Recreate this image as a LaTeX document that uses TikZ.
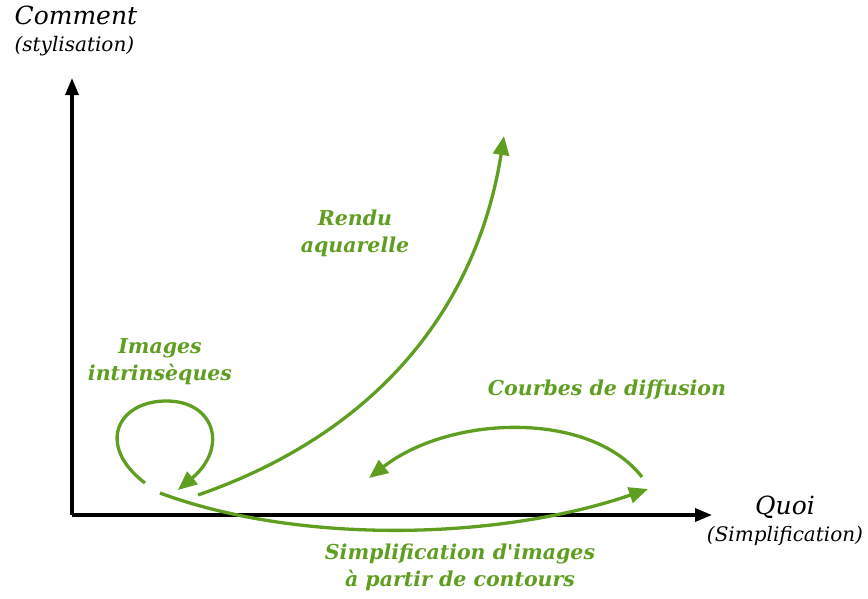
\documentclass[tikz,border=0pt]{standalone}
\usepackage{fontspec}
\setmainfont{DejaVu Serif}
\usetikzlibrary{arrows.meta}
\definecolor{vert}{RGB}{96,158,34}

\begin{document}
\begin{tikzpicture}[x=1pt, y=-1pt, line width=3.3pt,
    axe/.style={-{Triangle[length=17pt,width=13pt]}, black},
    fleche/.style={-{Triangle[length=19pt,width=16pt]}, vert},
    etiq/.style={text=vert, font=\fontsize{20.5}{27}\selectfont\bfseries\itshape, align=center},
    titre/.style={font=\fontsize{25}{28}\selectfont\itshape, inner sep=0pt}]
  \useasboundingbox (0,0) rectangle (868,598);

  % Axes
  \coordinate (O) at (72,515);
  \coordinate (haut) at (72,78);
  \coordinate (droite) at (712,515);
  \draw[axe] (O) -- (haut);
  \draw[axe] (O) -- (droite);

  % Titres des axes
  \node[titre, align=left, anchor=north west] (comment) at (13,4) {Comment\\[-1pt]{\fontsize{20}{22}\selectfont(stylisation)}};
  \node[titre, align=center] (quoi) at (785,521) {Quoi\\[-1pt]{\fontsize{20}{22}\selectfont(Simplification)}};

  % Etiquettes
  \node[etiq] (rendu) at (355,233) {Rendu\\aquarelle};
  \node[etiq] (intrin) at (160,362) {Images\\intrinsèques};
  \node[etiq] (courbes) at (607,390) {Courbes de diffusion};
  \node[etiq] (simpl) at (460,567) {Simplification d\textquotesingle images\\à partir de contours};

  % Points de départ et d'arrivée des courbes
  \coordinate (r0) at (198,495);
  \coordinate (r1) at (504,136);
  \coordinate (b0) at (145,483);
  \coordinate (b1) at (178,490);
  \coordinate (s0) at (160,493);
  \coordinate (s1) at (648,489);
  \coordinate (c0) at (642,477);
  \coordinate (c1) at (369,478);

  % Rendu aquarelle
  \draw[fleche] (r0) .. controls (385,430) and (478,300) .. (r1);

  % Images intrinsèques (boucle)
  \draw[fleche] (b0) .. controls (95,445) and (118,400) .. (168,401)
    .. controls (215,402) and (228,448) .. (b1);

  % Simplification
  \draw[fleche] (s0) .. controls (300,545) and (500,540) .. (s1);

  % Courbes de diffusion
  \draw[fleche] (c0) .. controls (590,410) and (450,415) .. (c1);
\end{tikzpicture}
\end{document}
